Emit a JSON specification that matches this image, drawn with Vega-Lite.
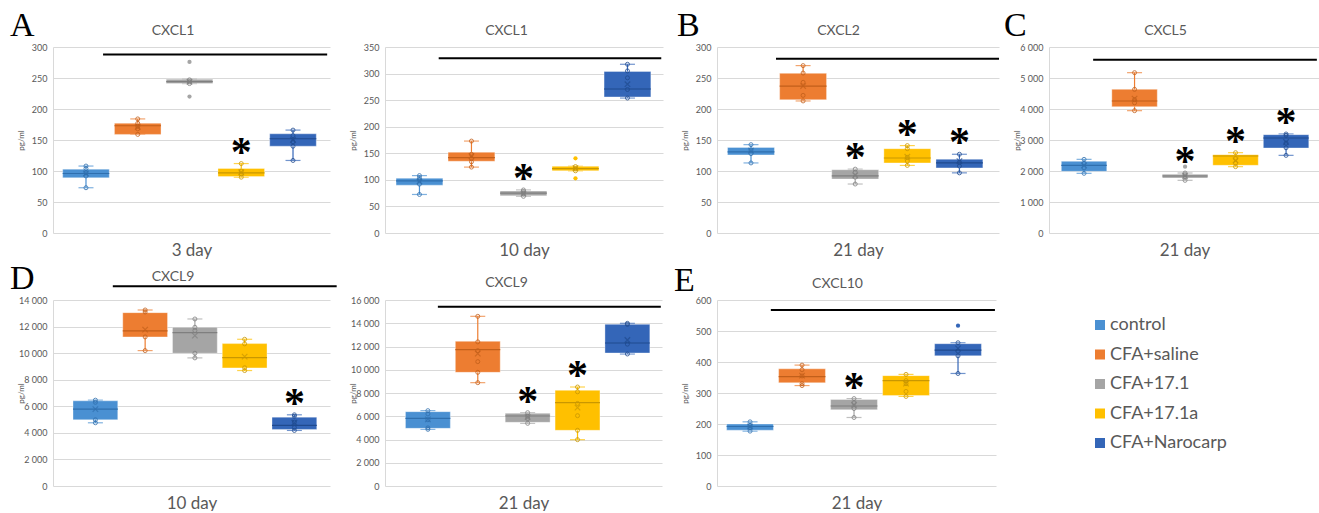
{
  "$schema": "https://vega.github.io/schema/vega-lite/v6.json",
  "background": "white",
  "padding": {"left": 10, "top": 9, "right": 0, "bottom": 0},
  "columns": 4,
  "bounds": "flush",
  "align": "all",
  "spacing": {"row": 67, "column": 50},
  "config": {
    "view": {"stroke": null},
    "font": "Lato",
    "axis": {"labelFont": "Lato", "titleFont": "Lato", "titleFontWeight": "normal", "titleColor": "#595959", "labelColor": "#595959", "ticks": false, "grid": false, "domain": false},
    "axisY": {"grid": true, "gridColor": "#d9d9d9", "gridWidth": 1, "domain": true, "domainColor": "#d9d9d9", "tickCount": 20, "labelFontSize": 9, "labelPadding": 6, "titleFontSize": 8, "titleX": -32, "titleY": 93, "titleAngle": -90, "titleAlign": "center", "titleBaseline": "middle"},
    "axisX": {"labels": false},
    "axisBottom": {"titleFontSize": 17, "titleY": 22, "titleBaseline": "alphabetic"},
    "axisTop": {"titleFontSize": 14, "titleBaseline": "alphabetic", "titleAlign": "center", "titleY": -13},
    "title": {"anchor": "start", "frame": "group", "font": "Liberation Serif", "fontSize": 34, "fontWeight": "normal", "color": "black", "offset": -20, "baseline": "alphabetic"}
  },
  "datasets": {
    "all": [
      {"k":"box","p":"A3","g":"control","lo":73,"q1":89,"med":96,"q3":103,"hi":108,"mean":96,"sig":0},
      {"k":"box","p":"A3","g":"CFA+saline","lo":159,"q1":159,"med":173,"q3":177,"hi":184,"mean":171,"sig":0},
      {"k":"box","p":"A3","g":"CFA+17.1","lo":241,"q1":241,"med":244,"q3":248,"hi":248,"mean":244,"sig":0},
      {"k":"box","p":"A3","g":"CFA+17.1a","lo":90,"q1":91,"med":97,"q3":104,"hi":112,"mean":98,"sig":1},
      {"k":"box","p":"A3","g":"CFA+Narocarp","lo":117,"q1":140,"med":152,"q3":160,"hi":166,"mean":150,"sig":0},
      {"k":"box","p":"A10","g":"control","lo":72.5,"q1":90,"med":98,"q3":103,"hi":108,"mean":97,"sig":0},
      {"k":"box","p":"A10","g":"CFA+saline","lo":124,"q1":135,"med":142,"q3":152,"hi":173,"mean":145,"sig":0},
      {"k":"box","p":"A10","g":"CFA+17.1","lo":69,"q1":70,"med":75,"q3":79,"hi":81,"mean":74,"sig":1},
      {"k":"box","p":"A10","g":"CFA+17.1a","lo":117,"q1":117,"med":121,"q3":125.6,"hi":125.6,"mean":122,"sig":0},
      {"k":"box","p":"A10","g":"CFA+Narocarp","lo":254,"q1":256,"med":271,"q3":304,"hi":317.5,"mean":280,"sig":0},
      {"k":"box","p":"B","g":"control","lo":113,"q1":126,"med":131,"q3":138,"hi":142.5,"mean":133,"sig":0},
      {"k":"box","p":"B","g":"CFA+saline","lo":213,"q1":215,"med":237,"q3":257.5,"hi":270,"mean":237,"sig":0},
      {"k":"box","p":"B","g":"CFA+17.1","lo":79,"q1":87,"med":92,"q3":102,"hi":103,"mean":93,"sig":1},
      {"k":"box","p":"B","g":"CFA+17.1a","lo":109,"q1":113,"med":121,"q3":136,"hi":141,"mean":123,"sig":1},
      {"k":"box","p":"B","g":"CFA+Narocarp","lo":97,"q1":105,"med":113,"q3":119,"hi":127,"mean":116,"sig":1},
      {"k":"box","p":"C","g":"control","lo":1925,"q1":1989,"med":2183,"q3":2312,"hi":2376,"mean":2180,"sig":0},
      {"k":"box","p":"C","g":"CFA+saline","lo":3946,"q1":4075,"med":4258,"q3":4634,"hi":5172,"mean":4333,"sig":0},
      {"k":"box","p":"C","g":"CFA+17.1","lo":1699,"q1":1774,"med":1839,"q3":1892,"hi":1935,"mean":1839,"sig":1},
      {"k":"box","p":"C","g":"CFA+17.1a","lo":2140,"q1":2183,"med":2484,"q3":2527,"hi":2591,"mean":2344,"sig":1},
      {"k":"box","p":"C","g":"CFA+Narocarp","lo":2505,"q1":2742,"med":3065,"q3":3172,"hi":3194,"mean":2935,"sig":1},
      {"k":"box","p":"D10","g":"control","lo":4758,"q1":4984,"med":5785,"q3":6411,"hi":6461,"mean":5785,"sig":0},
      {"k":"box","p":"D10","g":"CFA+saline","lo":10193,"q1":11220,"med":11670,"q3":13048,"hi":13248,"mean":11770,"sig":0},
      {"k":"box","p":"D10","g":"CFA+17.1","lo":9642,"q1":9992,"med":11545,"q3":11946,"hi":12572,"mean":11320,"sig":0},
      {"k":"box","p":"D10","g":"CFA+17.1a","lo":8690,"q1":8890,"med":9667,"q3":10719,"hi":11044,"mean":9742,"sig":0},
      {"k":"box","p":"D10","g":"CFA+Narocarp","lo":4182,"q1":4257,"med":4558,"q3":5184,"hi":5359,"mean":4758,"sig":1},
      {"k":"box","p":"D21","g":"control","lo":4875,"q1":4961,"med":5821,"q3":6394,"hi":6480,"mean":5735,"sig":0},
      {"k":"box","p":"D21","g":"CFA+saline","lo":8889,"q1":9778,"med":11728,"q3":12444,"hi":14595,"mean":11383,"sig":0},
      {"k":"box","p":"D21","g":"CFA+17.1","lo":5391,"q1":5477,"med":6022,"q3":6251,"hi":6308,"mean":5935,"sig":1},
      {"k":"box","p":"D21","g":"CFA+17.1a","lo":3986,"q1":4789,"med":7168,"q3":8229,"hi":8516,"mean":6738,"sig":1},
      {"k":"box","p":"D21","g":"CFA+Narocarp","lo":11355,"q1":11441,"med":12301,"q3":13907,"hi":13993,"mean":12559,"sig":0},
      {"k":"box","p":"E","g":"control","lo":177,"q1":180,"med":192,"q3":200,"hi":207,"mean":192,"sig":0},
      {"k":"box","p":"E","g":"CFA+saline","lo":324,"q1":333,"med":353,"q3":378,"hi":390,"mean":356,"sig":0},
      {"k":"box","p":"E","g":"CFA+17.1","lo":221,"q1":246,"med":258,"q3":279,"hi":282,"mean":262,"sig":1},
      {"k":"box","p":"E","g":"CFA+17.1a","lo":289,"q1":292,"med":340,"q3":356,"hi":360,"mean":330,"sig":0},
      {"k":"box","p":"E","g":"CFA+Narocarp","lo":363,"q1":420,"med":438,"q3":459,"hi":462,"mean":444,"sig":0},

      {"k":"pt","p":"A3","g":"control","v":73},{"k":"pt","p":"A3","g":"control","v":92},{"k":"pt","p":"A3","g":"control","v":97},{"k":"pt","p":"A3","g":"control","v":104},{"k":"pt","p":"A3","g":"control","v":108},
      {"k":"pt","p":"A3","g":"CFA+saline","v":159},{"k":"pt","p":"A3","g":"CFA+saline","v":168},{"k":"pt","p":"A3","g":"CFA+saline","v":172},{"k":"pt","p":"A3","g":"CFA+saline","v":177},{"k":"pt","p":"A3","g":"CFA+saline","v":184},
      {"k":"pt","p":"A3","g":"CFA+17.1","v":241},{"k":"pt","p":"A3","g":"CFA+17.1","v":244},{"k":"pt","p":"A3","g":"CFA+17.1","v":247},
      {"k":"pt","p":"A3","g":"CFA+17.1a","v":90},{"k":"pt","p":"A3","g":"CFA+17.1a","v":95},{"k":"pt","p":"A3","g":"CFA+17.1a","v":100},{"k":"pt","p":"A3","g":"CFA+17.1a","v":112},
      {"k":"pt","p":"A3","g":"CFA+Narocarp","v":117},{"k":"pt","p":"A3","g":"CFA+Narocarp","v":140},{"k":"pt","p":"A3","g":"CFA+Narocarp","v":147},{"k":"pt","p":"A3","g":"CFA+Narocarp","v":157},{"k":"pt","p":"A3","g":"CFA+Narocarp","v":166},
      {"k":"pt","p":"A10","g":"control","v":72.5},{"k":"pt","p":"A10","g":"control","v":92},{"k":"pt","p":"A10","g":"control","v":100},{"k":"pt","p":"A10","g":"control","v":104},{"k":"pt","p":"A10","g":"control","v":108},
      {"k":"pt","p":"A10","g":"CFA+saline","v":124},{"k":"pt","p":"A10","g":"CFA+saline","v":134},{"k":"pt","p":"A10","g":"CFA+saline","v":140},{"k":"pt","p":"A10","g":"CFA+saline","v":148},{"k":"pt","p":"A10","g":"CFA+saline","v":173},
      {"k":"pt","p":"A10","g":"CFA+17.1","v":69},{"k":"pt","p":"A10","g":"CFA+17.1","v":74},{"k":"pt","p":"A10","g":"CFA+17.1","v":78},{"k":"pt","p":"A10","g":"CFA+17.1","v":81},
      {"k":"pt","p":"A10","g":"CFA+17.1a","v":117},{"k":"pt","p":"A10","g":"CFA+17.1a","v":121},{"k":"pt","p":"A10","g":"CFA+17.1a","v":125},
      {"k":"pt","p":"A10","g":"CFA+Narocarp","v":254},{"k":"pt","p":"A10","g":"CFA+Narocarp","v":270},{"k":"pt","p":"A10","g":"CFA+Narocarp","v":292},{"k":"pt","p":"A10","g":"CFA+Narocarp","v":305},{"k":"pt","p":"A10","g":"CFA+Narocarp","v":317.5},
      {"k":"pt","p":"B","g":"control","v":113},{"k":"pt","p":"B","g":"control","v":128},{"k":"pt","p":"B","g":"control","v":134},{"k":"pt","p":"B","g":"control","v":142.5},
      {"k":"pt","p":"B","g":"CFA+saline","v":213},{"k":"pt","p":"B","g":"CFA+saline","v":222},{"k":"pt","p":"B","g":"CFA+saline","v":243},{"k":"pt","p":"B","g":"CFA+saline","v":258},{"k":"pt","p":"B","g":"CFA+saline","v":270},
      {"k":"pt","p":"B","g":"CFA+17.1","v":79},{"k":"pt","p":"B","g":"CFA+17.1","v":90},{"k":"pt","p":"B","g":"CFA+17.1","v":98},{"k":"pt","p":"B","g":"CFA+17.1","v":103},
      {"k":"pt","p":"B","g":"CFA+17.1a","v":109},{"k":"pt","p":"B","g":"CFA+17.1a","v":116},{"k":"pt","p":"B","g":"CFA+17.1a","v":122},{"k":"pt","p":"B","g":"CFA+17.1a","v":136},{"k":"pt","p":"B","g":"CFA+17.1a","v":141},
      {"k":"pt","p":"B","g":"CFA+Narocarp","v":97},{"k":"pt","p":"B","g":"CFA+Narocarp","v":108},{"k":"pt","p":"B","g":"CFA+Narocarp","v":114},{"k":"pt","p":"B","g":"CFA+Narocarp","v":127},
      {"k":"pt","p":"C","g":"control","v":1925},{"k":"pt","p":"C","g":"control","v":2100},{"k":"pt","p":"C","g":"control","v":2250},{"k":"pt","p":"C","g":"control","v":2376},
      {"k":"pt","p":"C","g":"CFA+saline","v":3946},{"k":"pt","p":"C","g":"CFA+saline","v":4200},{"k":"pt","p":"C","g":"CFA+saline","v":4300},{"k":"pt","p":"C","g":"CFA+saline","v":4634},{"k":"pt","p":"C","g":"CFA+saline","v":5172},
      {"k":"pt","p":"C","g":"CFA+17.1","v":1699},{"k":"pt","p":"C","g":"CFA+17.1","v":1800},{"k":"pt","p":"C","g":"CFA+17.1","v":1880},{"k":"pt","p":"C","g":"CFA+17.1","v":1935},
      {"k":"pt","p":"C","g":"CFA+17.1a","v":2140},{"k":"pt","p":"C","g":"CFA+17.1a","v":2250},{"k":"pt","p":"C","g":"CFA+17.1a","v":2400},{"k":"pt","p":"C","g":"CFA+17.1a","v":2591},
      {"k":"pt","p":"C","g":"CFA+Narocarp","v":2505},{"k":"pt","p":"C","g":"CFA+Narocarp","v":2750},{"k":"pt","p":"C","g":"CFA+Narocarp","v":2900},{"k":"pt","p":"C","g":"CFA+Narocarp","v":3150},{"k":"pt","p":"C","g":"CFA+Narocarp","v":3194},
      {"k":"pt","p":"D10","g":"control","v":4758},{"k":"pt","p":"D10","g":"control","v":4984},{"k":"pt","p":"D10","g":"control","v":6300},{"k":"pt","p":"D10","g":"control","v":6461},
      {"k":"pt","p":"D10","g":"CFA+saline","v":10193},{"k":"pt","p":"D10","g":"CFA+saline","v":11220},{"k":"pt","p":"D10","g":"CFA+saline","v":13100},{"k":"pt","p":"D10","g":"CFA+saline","v":13248},
      {"k":"pt","p":"D10","g":"CFA+17.1","v":9642},{"k":"pt","p":"D10","g":"CFA+17.1","v":9992},{"k":"pt","p":"D10","g":"CFA+17.1","v":11700},{"k":"pt","p":"D10","g":"CFA+17.1","v":11950},{"k":"pt","p":"D10","g":"CFA+17.1","v":12572},
      {"k":"pt","p":"D10","g":"CFA+17.1a","v":8690},{"k":"pt","p":"D10","g":"CFA+17.1a","v":8900},{"k":"pt","p":"D10","g":"CFA+17.1a","v":10700},{"k":"pt","p":"D10","g":"CFA+17.1a","v":11044},
      {"k":"pt","p":"D10","g":"CFA+Narocarp","v":4182},{"k":"pt","p":"D10","g":"CFA+Narocarp","v":4400},{"k":"pt","p":"D10","g":"CFA+Narocarp","v":4800},{"k":"pt","p":"D10","g":"CFA+Narocarp","v":5250},{"k":"pt","p":"D10","g":"CFA+Narocarp","v":5359},
      {"k":"pt","p":"D21","g":"control","v":4875},{"k":"pt","p":"D21","g":"control","v":5000},{"k":"pt","p":"D21","g":"control","v":5700},{"k":"pt","p":"D21","g":"control","v":6200},{"k":"pt","p":"D21","g":"control","v":6480},
      {"k":"pt","p":"D21","g":"CFA+saline","v":8889},{"k":"pt","p":"D21","g":"CFA+saline","v":9778},{"k":"pt","p":"D21","g":"CFA+saline","v":10700},{"k":"pt","p":"D21","g":"CFA+saline","v":11650},{"k":"pt","p":"D21","g":"CFA+saline","v":12400},{"k":"pt","p":"D21","g":"CFA+saline","v":14595},
      {"k":"pt","p":"D21","g":"CFA+17.1","v":5391},{"k":"pt","p":"D21","g":"CFA+17.1","v":5800},{"k":"pt","p":"D21","g":"CFA+17.1","v":6000},{"k":"pt","p":"D21","g":"CFA+17.1","v":6308},
      {"k":"pt","p":"D21","g":"CFA+17.1a","v":3986},{"k":"pt","p":"D21","g":"CFA+17.1a","v":4789},{"k":"pt","p":"D21","g":"CFA+17.1a","v":6050},{"k":"pt","p":"D21","g":"CFA+17.1a","v":7100},{"k":"pt","p":"D21","g":"CFA+17.1a","v":8100},{"k":"pt","p":"D21","g":"CFA+17.1a","v":8516},
      {"k":"pt","p":"D21","g":"CFA+Narocarp","v":11355},{"k":"pt","p":"D21","g":"CFA+Narocarp","v":12200},{"k":"pt","p":"D21","g":"CFA+Narocarp","v":13900},{"k":"pt","p":"D21","g":"CFA+Narocarp","v":13993},
      {"k":"pt","p":"E","g":"control","v":177},{"k":"pt","p":"E","g":"control","v":188},{"k":"pt","p":"E","g":"control","v":195},{"k":"pt","p":"E","g":"control","v":207},
      {"k":"pt","p":"E","g":"CFA+saline","v":324},{"k":"pt","p":"E","g":"CFA+saline","v":330},{"k":"pt","p":"E","g":"CFA+saline","v":355},{"k":"pt","p":"E","g":"CFA+saline","v":375},{"k":"pt","p":"E","g":"CFA+saline","v":390},
      {"k":"pt","p":"E","g":"CFA+17.1","v":221},{"k":"pt","p":"E","g":"CFA+17.1","v":250},{"k":"pt","p":"E","g":"CFA+17.1","v":268},{"k":"pt","p":"E","g":"CFA+17.1","v":282},
      {"k":"pt","p":"E","g":"CFA+17.1a","v":289},{"k":"pt","p":"E","g":"CFA+17.1a","v":305},{"k":"pt","p":"E","g":"CFA+17.1a","v":330},{"k":"pt","p":"E","g":"CFA+17.1a","v":340},{"k":"pt","p":"E","g":"CFA+17.1a","v":360},
      {"k":"pt","p":"E","g":"CFA+Narocarp","v":363},{"k":"pt","p":"E","g":"CFA+Narocarp","v":420},{"k":"pt","p":"E","g":"CFA+Narocarp","v":435},{"k":"pt","p":"E","g":"CFA+Narocarp","v":462},

      {"k":"out","p":"A3","g":"CFA+17.1","v":276},
      {"k":"out","p":"A3","g":"CFA+17.1","v":220},
      {"k":"out","p":"A10","g":"CFA+17.1a","v":140.6},
      {"k":"out","p":"A10","g":"CFA+17.1a","v":103},
      {"k":"out","p":"C","g":"CFA+17.1","v":2140},
      {"k":"out","p":"E","g":"CFA+Narocarp","v":517},

      {"k":"line","p":"A3","from":"control","to":"CFA+Narocarp","v":288},
      {"k":"line","p":"A10","from":"control","to":"CFA+Narocarp","v":329},
      {"k":"line","p":"B","from":"control","to":"CFA+Narocarp","v":281},
      {"k":"line","p":"C","from":"control","to":"CFA+Narocarp","v":5591},
      {"k":"line","p":"D10","from":"control","to":"CFA+Narocarp","v":15026},
      {"k":"line","p":"D21","from":"control","to":"CFA+Narocarp","v":15427},
      {"k":"line","p":"E","from":"control","to":"CFA+Narocarp","v":568}
    ]
  },
  "concat": [
    {
      "width": 277, "height": 186,
      "title": {"text": "A", "dx": -43},
      "data": {"name": "all"},
      "transform": [{"filter": "datum.p == 'A3'"}],
      "layer": [
        {"transform": [{"filter": "datum.k == 'box'"}], "mark": {"type": "rule", "strokeWidth": 1.2},
         "encoding": {
          "x": {"field": "g", "type": "nominal", "scale": {"domain": ["control","CFA+saline","CFA+17.1","CFA+17.1a","CFA+Narocarp"], "paddingInner": 0, "paddingOuter": 0.176, "align": 0.39}, "axis": {"orient": "top", "title": "CXCL1", "titleX": 119.5}},
          "y": {"field": "lo", "type": "quantitative", "scale": {"domain": [0, 300], "nice": false}, "axis": {"title": "pg/ml", "values": [0,50,100,150,200,250,300]}},
          "y2": {"field": "hi"},
          "color": {"field": "g", "type": "nominal", "scale": {"domain": ["control","CFA+saline","CFA+17.1","CFA+17.1a","CFA+Narocarp"], "range": ["#4a90d2","#ed7d31","#a5a5a5","#ffc000","#3466b8"]}, "legend": null}}},
        {"transform": [{"filter": "datum.k == 'box'"}], "mark": {"type": "tick", "size": 15, "thickness": 1.2},
         "encoding": {"x": {"field": "g", "type": "nominal", "axis": null}, "y": {"field": "lo", "type": "quantitative"}, "color": {"field": "g", "type": "nominal", "legend": null}}},
        {"transform": [{"filter": "datum.k == 'box'"}], "mark": {"type": "tick", "size": 15, "thickness": 1.2},
         "encoding": {"x": {"field": "g", "type": "nominal", "axis": null}, "y": {"field": "hi", "type": "quantitative"}, "color": {"field": "g", "type": "nominal", "legend": null}}},
        {"transform": [{"filter": "datum.k == 'box'"}], "mark": {"type": "bar", "width": {"band": 0.9}, "stroke": "white", "strokeOpacity": 0.35, "strokeWidth": 1},
         "encoding": {"x": {"field": "g", "type": "nominal", "axis": {"orient": "bottom", "title": "3 day"}}, "y": {"field": "q1", "type": "quantitative"}, "y2": {"field": "q3"},
          "fill": {"field": "g", "type": "nominal", "sort": ["control","CFA+saline","CFA+17.1","CFA+17.1a","CFA+Narocarp"], "scale": {"range": ["#4a90d2","#ed7d31","#a5a5a5","#ffc000","#3466b8"]}, "legend": {"orient": "none", "legendX": 1038, "legendY": 269, "title": null, "symbolType": "square", "symbolSize": 100, "symbolStrokeWidth": 0, "labelFontSize": 18, "labelFont": "Lato", "labelColor": "#595959", "rowPadding": 11.5, "labelOffset": 1, "padding": 0}}}},
        {"transform": [{"filter": "datum.k == 'box'"}], "mark": {"type": "rule", "strokeWidth": 1.2},
         "encoding": {"x": {"field": "g", "type": "nominal", "bandPosition": 0.05, "axis": null}, "x2": {"field": "g", "bandPosition": 0.95}, "y": {"field": "med", "type": "quantitative"},
          "stroke": {"field": "g", "type": "nominal", "scale": {"domain": ["control","CFA+saline","CFA+17.1","CFA+17.1a","CFA+Narocarp"], "range": ["#2f6fae","#c25f1a","#7f7f7f","#c99700","#1f4a8e"]}, "legend": null}}},
        {"transform": [{"filter": "datum.k == 'pt'"}], "mark": {"type": "point", "shape": "circle", "size": 16, "filled": false, "strokeWidth": 1, "opacity": 0.8},
         "encoding": {"x": {"field": "g", "type": "nominal", "axis": null}, "y": {"field": "v", "type": "quantitative"}, "stroke": {"field": "g", "type": "nominal", "legend": null}}},
        {"transform": [{"filter": "datum.k == 'box'"}], "mark": {"type": "point", "shape": "M-1,-1L1,1M-1,1L1,-1", "size": 30, "filled": false, "strokeWidth": 1.2},
         "encoding": {"x": {"field": "g", "type": "nominal", "axis": null}, "y": {"field": "mean", "type": "quantitative"}, "stroke": {"field": "g", "type": "nominal", "legend": null}}},
        {"transform": [{"filter": "datum.k == 'out'"}], "mark": {"type": "circle", "size": 18, "opacity": 1},
         "encoding": {"x": {"field": "g", "type": "nominal", "axis": null}, "y": {"field": "v", "type": "quantitative"}, "color": {"field": "g", "type": "nominal", "legend": null}}},
        {"transform": [{"filter": "datum.k == 'box' && datum.sig == 1"}], "mark": {"type": "text", "text": "*", "font": "Liberation Serif", "fontSize": 42, "fontWeight": "bold", "baseline": "alphabetic", "dy": 2, "color": "black"},
         "encoding": {"x": {"field": "g", "type": "nominal", "axis": null}, "y": {"field": "hi", "type": "quantitative"}}},
        {"transform": [{"filter": "datum.k == 'line'"}], "mark": {"type": "rule", "strokeWidth": 2, "color": "black"},
         "encoding": {"x": {"field": "from", "type": "nominal", "bandPosition": 0.83, "axis": null}, "x2": {"field": "to", "bandPosition": 1.16}, "y": {"field": "v", "type": "quantitative"}}}
      ]
    },
    {
      "width": 278, "height": 186,
      "data": {"name": "all"},
      "transform": [{"filter": "datum.p == 'A10'"}],
      "layer": [
        {"transform": [{"filter": "datum.k == 'box'"}], "mark": {"type": "rule", "strokeWidth": 1.2},
         "encoding": {
          "x": {"field": "g", "type": "nominal", "scale": {"domain": ["control","CFA+saline","CFA+17.1","CFA+17.1a","CFA+Narocarp"], "paddingInner": 0, "paddingOuter": 0.173, "align": 0.47}, "axis": {"orient": "top", "title": "CXCL1", "titleX": 121}},
          "y": {"field": "lo", "type": "quantitative", "scale": {"domain": [0, 350], "nice": false}, "axis": {"title": "pg/ml", "values": [0,50,100,150,200,250,300,350]}},
          "y2": {"field": "hi"},
          "color": {"field": "g", "type": "nominal", "scale": {"domain": ["control","CFA+saline","CFA+17.1","CFA+17.1a","CFA+Narocarp"], "range": ["#4a90d2","#ed7d31","#a5a5a5","#ffc000","#3466b8"]}, "legend": null}}},
        {"transform": [{"filter": "datum.k == 'box'"}], "mark": {"type": "tick", "size": 15, "thickness": 1.2},
         "encoding": {"x": {"field": "g", "type": "nominal", "axis": null}, "y": {"field": "lo", "type": "quantitative"}, "color": {"field": "g", "type": "nominal", "legend": null}}},
        {"transform": [{"filter": "datum.k == 'box'"}], "mark": {"type": "tick", "size": 15, "thickness": 1.2},
         "encoding": {"x": {"field": "g", "type": "nominal", "axis": null}, "y": {"field": "hi", "type": "quantitative"}, "color": {"field": "g", "type": "nominal", "legend": null}}},
        {"transform": [{"filter": "datum.k == 'box'"}], "mark": {"type": "bar", "width": {"band": 0.9}, "stroke": "white", "strokeOpacity": 0.35, "strokeWidth": 1},
         "encoding": {"x": {"field": "g", "type": "nominal", "axis": {"orient": "bottom", "title": "10 day"}}, "y": {"field": "q1", "type": "quantitative"}, "y2": {"field": "q3"}, "color": {"field": "g", "type": "nominal", "legend": null}}},
        {"transform": [{"filter": "datum.k == 'box'"}], "mark": {"type": "rule", "strokeWidth": 1.2},
         "encoding": {"x": {"field": "g", "type": "nominal", "bandPosition": 0.05, "axis": null}, "x2": {"field": "g", "bandPosition": 0.95}, "y": {"field": "med", "type": "quantitative"},
          "stroke": {"field": "g", "type": "nominal", "scale": {"domain": ["control","CFA+saline","CFA+17.1","CFA+17.1a","CFA+Narocarp"], "range": ["#2f6fae","#c25f1a","#7f7f7f","#c99700","#1f4a8e"]}, "legend": null}}},
        {"transform": [{"filter": "datum.k == 'pt'"}], "mark": {"type": "point", "shape": "circle", "size": 16, "filled": false, "strokeWidth": 1, "opacity": 0.8},
         "encoding": {"x": {"field": "g", "type": "nominal", "axis": null}, "y": {"field": "v", "type": "quantitative"}, "stroke": {"field": "g", "type": "nominal", "legend": null}}},
        {"transform": [{"filter": "datum.k == 'box'"}], "mark": {"type": "point", "shape": "M-1,-1L1,1M-1,1L1,-1", "size": 30, "filled": false, "strokeWidth": 1.2},
         "encoding": {"x": {"field": "g", "type": "nominal", "axis": null}, "y": {"field": "mean", "type": "quantitative"}, "stroke": {"field": "g", "type": "nominal", "legend": null}}},
        {"transform": [{"filter": "datum.k == 'out'"}], "mark": {"type": "circle", "size": 18, "opacity": 1},
         "encoding": {"x": {"field": "g", "type": "nominal", "axis": null}, "y": {"field": "v", "type": "quantitative"}, "color": {"field": "g", "type": "nominal", "legend": null}}},
        {"transform": [{"filter": "datum.k == 'box' && datum.sig == 1"}], "mark": {"type": "text", "text": "*", "font": "Liberation Serif", "fontSize": 42, "fontWeight": "bold", "baseline": "alphabetic", "dy": 2, "color": "black"},
         "encoding": {"x": {"field": "g", "type": "nominal", "axis": null}, "y": {"field": "hi", "type": "quantitative"}}},
        {"transform": [{"filter": "datum.k == 'line'"}], "mark": {"type": "rule", "strokeWidth": 2, "color": "black"},
         "encoding": {"x": {"field": "from", "type": "nominal", "bandPosition": 0.87, "axis": null}, "x2": {"field": "to", "bandPosition": 1.15}, "y": {"field": "v", "type": "quantitative"}}}
      ]
    },
    {
      "width": 282, "height": 186,
      "title": {"text": "B", "dx": -40},
      "data": {"name": "all"},
      "transform": [{"filter": "datum.p == 'B'"}],
      "layer": [
        {"transform": [{"filter": "datum.k == 'box'"}], "mark": {"type": "rule", "strokeWidth": 1.2},
         "encoding": {
          "x": {"field": "g", "type": "nominal", "scale": {"domain": ["control","CFA+saline","CFA+17.1","CFA+17.1a","CFA+Narocarp"], "paddingInner": 0, "paddingOuter": 0.206, "align": 0.37}, "axis": {"orient": "top", "title": "CXCL2", "titleX": 121}},
          "y": {"field": "lo", "type": "quantitative", "scale": {"domain": [0, 300], "nice": false}, "axis": {"title": "pg/ml", "values": [0,50,100,150,200,250,300]}},
          "y2": {"field": "hi"},
          "color": {"field": "g", "type": "nominal", "scale": {"domain": ["control","CFA+saline","CFA+17.1","CFA+17.1a","CFA+Narocarp"], "range": ["#4a90d2","#ed7d31","#a5a5a5","#ffc000","#3466b8"]}, "legend": null}}},
        {"transform": [{"filter": "datum.k == 'box'"}], "mark": {"type": "tick", "size": 15, "thickness": 1.2},
         "encoding": {"x": {"field": "g", "type": "nominal", "axis": null}, "y": {"field": "lo", "type": "quantitative"}, "color": {"field": "g", "type": "nominal", "legend": null}}},
        {"transform": [{"filter": "datum.k == 'box'"}], "mark": {"type": "tick", "size": 15, "thickness": 1.2},
         "encoding": {"x": {"field": "g", "type": "nominal", "axis": null}, "y": {"field": "hi", "type": "quantitative"}, "color": {"field": "g", "type": "nominal", "legend": null}}},
        {"transform": [{"filter": "datum.k == 'box'"}], "mark": {"type": "bar", "width": {"band": 0.9}, "stroke": "white", "strokeOpacity": 0.35, "strokeWidth": 1},
         "encoding": {"x": {"field": "g", "type": "nominal", "axis": {"orient": "bottom", "title": "21 day"}}, "y": {"field": "q1", "type": "quantitative"}, "y2": {"field": "q3"}, "color": {"field": "g", "type": "nominal", "legend": null}}},
        {"transform": [{"filter": "datum.k == 'box'"}], "mark": {"type": "rule", "strokeWidth": 1.2},
         "encoding": {"x": {"field": "g", "type": "nominal", "bandPosition": 0.05, "axis": null}, "x2": {"field": "g", "bandPosition": 0.95}, "y": {"field": "med", "type": "quantitative"},
          "stroke": {"field": "g", "type": "nominal", "scale": {"domain": ["control","CFA+saline","CFA+17.1","CFA+17.1a","CFA+Narocarp"], "range": ["#2f6fae","#c25f1a","#7f7f7f","#c99700","#1f4a8e"]}, "legend": null}}},
        {"transform": [{"filter": "datum.k == 'pt'"}], "mark": {"type": "point", "shape": "circle", "size": 16, "filled": false, "strokeWidth": 1, "opacity": 0.8},
         "encoding": {"x": {"field": "g", "type": "nominal", "axis": null}, "y": {"field": "v", "type": "quantitative"}, "stroke": {"field": "g", "type": "nominal", "legend": null}}},
        {"transform": [{"filter": "datum.k == 'box'"}], "mark": {"type": "point", "shape": "M-1,-1L1,1M-1,1L1,-1", "size": 30, "filled": false, "strokeWidth": 1.2},
         "encoding": {"x": {"field": "g", "type": "nominal", "axis": null}, "y": {"field": "mean", "type": "quantitative"}, "stroke": {"field": "g", "type": "nominal", "legend": null}}},
        {"transform": [{"filter": "datum.k == 'box' && datum.sig == 1"}], "mark": {"type": "text", "text": "*", "font": "Liberation Serif", "fontSize": 42, "fontWeight": "bold", "baseline": "alphabetic", "dy": 2, "color": "black"},
         "encoding": {"x": {"field": "g", "type": "nominal", "axis": null}, "y": {"field": "hi", "type": "quantitative"}}},
        {"transform": [{"filter": "datum.k == 'line'"}], "mark": {"type": "rule", "strokeWidth": 2, "color": "black"},
         "encoding": {"x": {"field": "from", "type": "nominal", "bandPosition": 0.98, "axis": null}, "x2": {"field": "to", "bandPosition": 1.26}, "y": {"field": "v", "type": "quantitative"}}}
      ]
    },
    {
      "width": 271, "height": 186,
      "title": {"text": "C", "dx": -45},
      "data": {"name": "all"},
      "transform": [{"filter": "datum.p == 'C'"}],
      "layer": [
        {"transform": [{"filter": "datum.k == 'box'"}], "mark": {"type": "rule", "strokeWidth": 1.2},
         "encoding": {
          "x": {"field": "g", "type": "nominal", "scale": {"domain": ["control","CFA+saline","CFA+17.1","CFA+17.1a","CFA+Narocarp"], "paddingInner": 0, "paddingOuter": 0.183, "align": 0.53}, "axis": {"orient": "top", "title": "CXCL5", "titleX": 116}},
          "y": {"field": "lo", "type": "quantitative", "scale": {"domain": [0, 6000], "nice": false}, "axis": {"title": "pg/ml", "values": [0,1000,2000,3000,4000,5000,6000], "format": ",d", "labelExpr": "replace(datum.label, ',', ' ')"}},
          "y2": {"field": "hi"},
          "color": {"field": "g", "type": "nominal", "scale": {"domain": ["control","CFA+saline","CFA+17.1","CFA+17.1a","CFA+Narocarp"], "range": ["#4a90d2","#ed7d31","#a5a5a5","#ffc000","#3466b8"]}, "legend": null}}},
        {"transform": [{"filter": "datum.k == 'box'"}], "mark": {"type": "tick", "size": 15, "thickness": 1.2},
         "encoding": {"x": {"field": "g", "type": "nominal", "axis": null}, "y": {"field": "lo", "type": "quantitative"}, "color": {"field": "g", "type": "nominal", "legend": null}}},
        {"transform": [{"filter": "datum.k == 'box'"}], "mark": {"type": "tick", "size": 15, "thickness": 1.2},
         "encoding": {"x": {"field": "g", "type": "nominal", "axis": null}, "y": {"field": "hi", "type": "quantitative"}, "color": {"field": "g", "type": "nominal", "legend": null}}},
        {"transform": [{"filter": "datum.k == 'box'"}], "mark": {"type": "bar", "width": {"band": 0.9}, "stroke": "white", "strokeOpacity": 0.35, "strokeWidth": 1},
         "encoding": {"x": {"field": "g", "type": "nominal", "axis": {"orient": "bottom", "title": "21 day"}}, "y": {"field": "q1", "type": "quantitative"}, "y2": {"field": "q3"}, "color": {"field": "g", "type": "nominal", "legend": null}}},
        {"transform": [{"filter": "datum.k == 'box'"}], "mark": {"type": "rule", "strokeWidth": 1.2},
         "encoding": {"x": {"field": "g", "type": "nominal", "bandPosition": 0.05, "axis": null}, "x2": {"field": "g", "bandPosition": 0.95}, "y": {"field": "med", "type": "quantitative"},
          "stroke": {"field": "g", "type": "nominal", "scale": {"domain": ["control","CFA+saline","CFA+17.1","CFA+17.1a","CFA+Narocarp"], "range": ["#2f6fae","#c25f1a","#7f7f7f","#c99700","#1f4a8e"]}, "legend": null}}},
        {"transform": [{"filter": "datum.k == 'pt'"}], "mark": {"type": "point", "shape": "circle", "size": 16, "filled": false, "strokeWidth": 1, "opacity": 0.8},
         "encoding": {"x": {"field": "g", "type": "nominal", "axis": null}, "y": {"field": "v", "type": "quantitative"}, "stroke": {"field": "g", "type": "nominal", "legend": null}}},
        {"transform": [{"filter": "datum.k == 'box'"}], "mark": {"type": "point", "shape": "M-1,-1L1,1M-1,1L1,-1", "size": 30, "filled": false, "strokeWidth": 1.2},
         "encoding": {"x": {"field": "g", "type": "nominal", "axis": null}, "y": {"field": "mean", "type": "quantitative"}, "stroke": {"field": "g", "type": "nominal", "legend": null}}},
        {"transform": [{"filter": "datum.k == 'out'"}], "mark": {"type": "circle", "size": 18, "opacity": 1},
         "encoding": {"x": {"field": "g", "type": "nominal", "axis": null}, "y": {"field": "v", "type": "quantitative"}, "color": {"field": "g", "type": "nominal", "legend": null}}},
        {"transform": [{"filter": "datum.k == 'box' && datum.sig == 1"}], "mark": {"type": "text", "text": "*", "font": "Liberation Serif", "fontSize": 42, "fontWeight": "bold", "baseline": "alphabetic", "dy": 2, "color": "black"},
         "encoding": {"x": {"field": "g", "type": "nominal", "axis": null}, "y": {"field": "hi", "type": "quantitative"}}},
        {"transform": [{"filter": "datum.k == 'line'"}], "mark": {"type": "rule", "strokeWidth": 2, "color": "black"},
         "encoding": {"x": {"field": "from", "type": "nominal", "bandPosition": 0.68, "axis": null}, "x2": {"field": "to", "bandPosition": 1.11}, "y": {"field": "v", "type": "quantitative"}}}
      ]
    },
    {
      "width": 277, "height": 186,
      "title": {"text": "D", "dx": -43, "offset": -27},
      "data": {"name": "all"},
      "transform": [{"filter": "datum.p == 'D10'"}],
      "layer": [
        {"transform": [{"filter": "datum.k == 'box'"}], "mark": {"type": "rule", "strokeWidth": 1.2},
         "encoding": {
          "x": {"field": "g", "type": "nominal", "scale": {"domain": ["control","CFA+saline","CFA+17.1","CFA+17.1a","CFA+Narocarp"], "paddingInner": 0, "paddingOuter": 0.284, "align": 0.62}, "axis": {"orient": "top", "title": "CXCL9", "titleX": 119.5, "titleY": -20}},
          "y": {"field": "lo", "type": "quantitative", "scale": {"domain": [0, 14000], "nice": false}, "axis": {"title": "pg/ml", "values": [0,2000,4000,6000,8000,10000,12000,14000], "format": ",d", "labelExpr": "replace(datum.label, ',', ' ')"}},
          "y2": {"field": "hi"},
          "color": {"field": "g", "type": "nominal", "scale": {"domain": ["control","CFA+saline","CFA+17.1","CFA+17.1a","CFA+Narocarp"], "range": ["#4a90d2","#ed7d31","#a5a5a5","#ffc000","#3466b8"]}, "legend": null}}},
        {"transform": [{"filter": "datum.k == 'box'"}], "mark": {"type": "tick", "size": 15, "thickness": 1.2},
         "encoding": {"x": {"field": "g", "type": "nominal", "axis": null}, "y": {"field": "lo", "type": "quantitative"}, "color": {"field": "g", "type": "nominal", "legend": null}}},
        {"transform": [{"filter": "datum.k == 'box'"}], "mark": {"type": "tick", "size": 15, "thickness": 1.2},
         "encoding": {"x": {"field": "g", "type": "nominal", "axis": null}, "y": {"field": "hi", "type": "quantitative"}, "color": {"field": "g", "type": "nominal", "legend": null}}},
        {"transform": [{"filter": "datum.k == 'box'"}], "mark": {"type": "bar", "width": {"band": 0.9}, "stroke": "white", "strokeOpacity": 0.35, "strokeWidth": 1},
         "encoding": {"x": {"field": "g", "type": "nominal", "axis": {"orient": "bottom", "title": "10 day"}}, "y": {"field": "q1", "type": "quantitative"}, "y2": {"field": "q3"}, "color": {"field": "g", "type": "nominal", "legend": null}}},
        {"transform": [{"filter": "datum.k == 'box'"}], "mark": {"type": "rule", "strokeWidth": 1.2},
         "encoding": {"x": {"field": "g", "type": "nominal", "bandPosition": 0.05, "axis": null}, "x2": {"field": "g", "bandPosition": 0.95}, "y": {"field": "med", "type": "quantitative"},
          "stroke": {"field": "g", "type": "nominal", "scale": {"domain": ["control","CFA+saline","CFA+17.1","CFA+17.1a","CFA+Narocarp"], "range": ["#2f6fae","#c25f1a","#7f7f7f","#c99700","#1f4a8e"]}, "legend": null}}},
        {"transform": [{"filter": "datum.k == 'pt'"}], "mark": {"type": "point", "shape": "circle", "size": 16, "filled": false, "strokeWidth": 1, "opacity": 0.8},
         "encoding": {"x": {"field": "g", "type": "nominal", "axis": null}, "y": {"field": "v", "type": "quantitative"}, "stroke": {"field": "g", "type": "nominal", "legend": null}}},
        {"transform": [{"filter": "datum.k == 'box'"}], "mark": {"type": "point", "shape": "M-1,-1L1,1M-1,1L1,-1", "size": 30, "filled": false, "strokeWidth": 1.2},
         "encoding": {"x": {"field": "g", "type": "nominal", "axis": null}, "y": {"field": "mean", "type": "quantitative"}, "stroke": {"field": "g", "type": "nominal", "legend": null}}},
        {"transform": [{"filter": "datum.k == 'box' && datum.sig == 1"}], "mark": {"type": "text", "text": "*", "font": "Liberation Serif", "fontSize": 42, "fontWeight": "bold", "baseline": "alphabetic", "dy": 2, "color": "black"},
         "encoding": {"x": {"field": "g", "type": "nominal", "axis": null}, "y": {"field": "hi", "type": "quantitative"}}},
        {"transform": [{"filter": "datum.k == 'line'"}], "mark": {"type": "rule", "strokeWidth": 2, "color": "black"},
         "encoding": {"x": {"field": "from", "type": "nominal", "bandPosition": 0.85, "axis": null}, "x2": {"field": "to", "bandPosition": 1.35}, "y": {"field": "v", "type": "quantitative"}}}
      ]
    },
    {
      "width": 277, "height": 186,
      "data": {"name": "all"},
      "transform": [{"filter": "datum.p == 'D21'"}],
      "layer": [
        {"transform": [{"filter": "datum.k == 'box'"}], "mark": {"type": "rule", "strokeWidth": 1.2},
         "encoding": {
          "x": {"field": "g", "type": "nominal", "scale": {"domain": ["control","CFA+saline","CFA+17.1","CFA+17.1a","CFA+Narocarp"], "paddingInner": 0, "paddingOuter": 0.277, "align": 0.65}, "axis": {"orient": "top", "title": "CXCL9", "titleX": 121, "titleY": -14}},
          "y": {"field": "lo", "type": "quantitative", "scale": {"domain": [0, 16000], "nice": false}, "axis": {"title": "pg/ml", "values": [0,2000,4000,6000,8000,10000,12000,14000,16000], "format": ",d", "labelExpr": "replace(datum.label, ',', ' ')"}},
          "y2": {"field": "hi"},
          "color": {"field": "g", "type": "nominal", "scale": {"domain": ["control","CFA+saline","CFA+17.1","CFA+17.1a","CFA+Narocarp"], "range": ["#4a90d2","#ed7d31","#a5a5a5","#ffc000","#3466b8"]}, "legend": null}}},
        {"transform": [{"filter": "datum.k == 'box'"}], "mark": {"type": "tick", "size": 15, "thickness": 1.2},
         "encoding": {"x": {"field": "g", "type": "nominal", "axis": null}, "y": {"field": "lo", "type": "quantitative"}, "color": {"field": "g", "type": "nominal", "legend": null}}},
        {"transform": [{"filter": "datum.k == 'box'"}], "mark": {"type": "tick", "size": 15, "thickness": 1.2},
         "encoding": {"x": {"field": "g", "type": "nominal", "axis": null}, "y": {"field": "hi", "type": "quantitative"}, "color": {"field": "g", "type": "nominal", "legend": null}}},
        {"transform": [{"filter": "datum.k == 'box'"}], "mark": {"type": "bar", "width": {"band": 0.9}, "stroke": "white", "strokeOpacity": 0.35, "strokeWidth": 1},
         "encoding": {"x": {"field": "g", "type": "nominal", "axis": {"orient": "bottom", "title": "21 day"}}, "y": {"field": "q1", "type": "quantitative"}, "y2": {"field": "q3"}, "color": {"field": "g", "type": "nominal", "legend": null}}},
        {"transform": [{"filter": "datum.k == 'box'"}], "mark": {"type": "rule", "strokeWidth": 1.2},
         "encoding": {"x": {"field": "g", "type": "nominal", "bandPosition": 0.05, "axis": null}, "x2": {"field": "g", "bandPosition": 0.95}, "y": {"field": "med", "type": "quantitative"},
          "stroke": {"field": "g", "type": "nominal", "scale": {"domain": ["control","CFA+saline","CFA+17.1","CFA+17.1a","CFA+Narocarp"], "range": ["#2f6fae","#c25f1a","#7f7f7f","#c99700","#1f4a8e"]}, "legend": null}}},
        {"transform": [{"filter": "datum.k == 'pt'"}], "mark": {"type": "point", "shape": "circle", "size": 16, "filled": false, "strokeWidth": 1, "opacity": 0.8},
         "encoding": {"x": {"field": "g", "type": "nominal", "axis": null}, "y": {"field": "v", "type": "quantitative"}, "stroke": {"field": "g", "type": "nominal", "legend": null}}},
        {"transform": [{"filter": "datum.k == 'box'"}], "mark": {"type": "point", "shape": "M-1,-1L1,1M-1,1L1,-1", "size": 30, "filled": false, "strokeWidth": 1.2},
         "encoding": {"x": {"field": "g", "type": "nominal", "axis": null}, "y": {"field": "mean", "type": "quantitative"}, "stroke": {"field": "g", "type": "nominal", "legend": null}}},
        {"transform": [{"filter": "datum.k == 'box' && datum.sig == 1"}], "mark": {"type": "text", "text": "*", "font": "Liberation Serif", "fontSize": 42, "fontWeight": "bold", "baseline": "alphabetic", "dy": 2, "color": "black"},
         "encoding": {"x": {"field": "g", "type": "nominal", "axis": null}, "y": {"field": "hi", "type": "quantitative"}}},
        {"transform": [{"filter": "datum.k == 'line'"}], "mark": {"type": "rule", "strokeWidth": 2, "color": "black"},
         "encoding": {"x": {"field": "from", "type": "nominal", "bandPosition": 0.7, "axis": null}, "x2": {"field": "to", "bandPosition": 1.17}, "y": {"field": "v", "type": "quantitative"}}}
      ]
    },
    {
      "width": 279, "height": 186,
      "title": {"text": "E", "dx": -43, "offset": -22},
      "data": {"name": "all"},
      "transform": [{"filter": "datum.p == 'E'"}],
      "layer": [
        {"transform": [{"filter": "datum.k == 'box'"}], "mark": {"type": "rule", "strokeWidth": 1.2},
         "encoding": {
          "x": {"field": "g", "type": "nominal", "scale": {"domain": ["control","CFA+saline","CFA+17.1","CFA+17.1a","CFA+Narocarp"], "paddingInner": 0, "paddingOuter": 0.183, "align": 0.37}, "axis": {"orient": "top", "title": "CXCL10", "titleX": 120}},
          "y": {"field": "lo", "type": "quantitative", "scale": {"domain": [0, 600], "nice": false}, "axis": {"title": "pg/ml", "values": [0,100,200,300,400,500,600]}},
          "y2": {"field": "hi"},
          "color": {"field": "g", "type": "nominal", "scale": {"domain": ["control","CFA+saline","CFA+17.1","CFA+17.1a","CFA+Narocarp"], "range": ["#4a90d2","#ed7d31","#a5a5a5","#ffc000","#3466b8"]}, "legend": null}}},
        {"transform": [{"filter": "datum.k == 'box'"}], "mark": {"type": "tick", "size": 15, "thickness": 1.2},
         "encoding": {"x": {"field": "g", "type": "nominal", "axis": null}, "y": {"field": "lo", "type": "quantitative"}, "color": {"field": "g", "type": "nominal", "legend": null}}},
        {"transform": [{"filter": "datum.k == 'box'"}], "mark": {"type": "tick", "size": 15, "thickness": 1.2},
         "encoding": {"x": {"field": "g", "type": "nominal", "axis": null}, "y": {"field": "hi", "type": "quantitative"}, "color": {"field": "g", "type": "nominal", "legend": null}}},
        {"transform": [{"filter": "datum.k == 'box'"}], "mark": {"type": "bar", "width": {"band": 0.9}, "stroke": "white", "strokeOpacity": 0.35, "strokeWidth": 1},
         "encoding": {"x": {"field": "g", "type": "nominal", "axis": {"orient": "bottom", "title": "21 day"}}, "y": {"field": "q1", "type": "quantitative"}, "y2": {"field": "q3"}, "color": {"field": "g", "type": "nominal", "legend": null}}},
        {"transform": [{"filter": "datum.k == 'box'"}], "mark": {"type": "rule", "strokeWidth": 1.2},
         "encoding": {"x": {"field": "g", "type": "nominal", "bandPosition": 0.05, "axis": null}, "x2": {"field": "g", "bandPosition": 0.95}, "y": {"field": "med", "type": "quantitative"},
          "stroke": {"field": "g", "type": "nominal", "scale": {"domain": ["control","CFA+saline","CFA+17.1","CFA+17.1a","CFA+Narocarp"], "range": ["#2f6fae","#c25f1a","#7f7f7f","#c99700","#1f4a8e"]}, "legend": null}}},
        {"transform": [{"filter": "datum.k == 'pt'"}], "mark": {"type": "point", "shape": "circle", "size": 16, "filled": false, "strokeWidth": 1, "opacity": 0.8},
         "encoding": {"x": {"field": "g", "type": "nominal", "axis": null}, "y": {"field": "v", "type": "quantitative"}, "stroke": {"field": "g", "type": "nominal", "legend": null}}},
        {"transform": [{"filter": "datum.k == 'box'"}], "mark": {"type": "point", "shape": "M-1,-1L1,1M-1,1L1,-1", "size": 30, "filled": false, "strokeWidth": 1.2},
         "encoding": {"x": {"field": "g", "type": "nominal", "axis": null}, "y": {"field": "mean", "type": "quantitative"}, "stroke": {"field": "g", "type": "nominal", "legend": null}}},
        {"transform": [{"filter": "datum.k == 'out'"}], "mark": {"type": "circle", "size": 18, "opacity": 1},
         "encoding": {"x": {"field": "g", "type": "nominal", "axis": null}, "y": {"field": "v", "type": "quantitative"}, "color": {"field": "g", "type": "nominal", "legend": null}}},
        {"transform": [{"filter": "datum.k == 'box' && datum.sig == 1"}], "mark": {"type": "text", "text": "*", "font": "Liberation Serif", "fontSize": 42, "fontWeight": "bold", "baseline": "alphabetic", "dy": 2, "color": "black"},
         "encoding": {"x": {"field": "g", "type": "nominal", "axis": null}, "y": {"field": "hi", "type": "quantitative"}}},
        {"transform": [{"filter": "datum.k == 'line'"}], "mark": {"type": "rule", "strokeWidth": 2, "color": "black"},
         "encoding": {"x": {"field": "from", "type": "nominal", "bandPosition": 0.9, "axis": null}, "x2": {"field": "to", "bandPosition": 1.21}, "y": {"field": "v", "type": "quantitative"}}}
      ]
    }
  ]
}
